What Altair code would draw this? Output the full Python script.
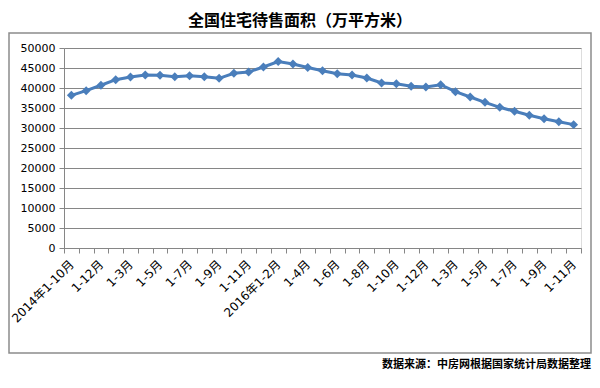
import altair as alt
import pandas as pd
import json

categories = [
    "2014年1-10月", "1-11月", "1-12月",
    "2015年1-2月", "1-3月", "1-4月", "1-5月", "1-6月", "1-7月", "1-8月", "1-9月", "1-10月", "1-11月", "1-12月",
    "2016年1-2月", "1-3月", "1-4月", "1-5月", "1-6月", "1-7月", "1-8月", "1-9月", "1-10月", "1-11月", "1-12月",
    "2017年1-2月", "1-3月", "1-4月", "1-5月", "1-6月", "1-7月", "1-8月", "1-9月", "1-10月", "1-11月",
]
values = [
    38170, 39330, 40680,
    42080, 42750, 43250, 43170, 42830, 43080, 42830, 42420, 43670, 44000, 45250,
    46630, 46000, 45120, 44330, 43580, 43250, 42500, 41250, 41080, 40420, 40260,
    40830, 39080, 37750, 36420, 35170, 34170, 33170, 32330, 31580, 30840,
]
y_ticks = list(range(0, 50001, 5000))
title_text = "全国住宅待售面积（万平方米）"
source_text = "数据来源：中房网根据国家统计局数据整理"

n = len(categories)
df = pd.DataFrame({"i": list(range(n)), "cat": categories, "v": values})

tick_vals = [k * 0.5 - 0.5 for k in range(2 * n + 1)]
label_expr = ("(datum.value % 2 === 0) ? " + json.dumps(categories, ensure_ascii=False)
              + "[datum.value] : ''")

BLUE = "#4A7EBB"
GRAY = "#868686"
FONT = "DejaVu Sans, Noto Sans CJK SC"

x = alt.X(
    "i:Q",
    scale=alt.Scale(domain=[-0.5, n - 0.5], nice=False, zero=False),
    axis=alt.Axis(
        title=None, values=tick_vals, labelExpr=label_expr, labelAngle=-45,
        labelAlign="right", labelBaseline="middle", labelPadding=9,
        labelOverlap=False, labelBound=False, labelFlush=False,
        labelFont=FONT, labelFontSize=12, labelColor="#000000",
        tickSize=5, tickColor=GRAY,
        tickOpacity={"condition": {"test": "datum.value % 1 !== 0", "value": 1}, "value": 0},
        domainColor=GRAY, grid=False,
    ),
)
y = alt.Y(
    "v:Q",
    scale=alt.Scale(domain=[0, 50000], nice=False),
    axis=alt.Axis(
        title=None, values=y_ticks, format="d", labelFont="DejaVu Sans", labelFontSize=11,
        labelColor="#000000", labelPadding=4, tickSize=5, tickColor=GRAY,
        domainColor=GRAY, gridColor=GRAY, gridWidth=1,
    ),
)

line = alt.Chart(df).mark_line(
    color=BLUE, strokeWidth=3,
    point=alt.OverlayMarkDef(shape="diamond", size=80, filled=True, color=BLUE, opacity=1),
).encode(x=x, y=y)

one = pd.DataFrame({"a": [0]})

border = alt.Chart(one).mark_rect(
    fill=None, stroke="#8c8c8c", strokeWidth=1.5
).encode(x=alt.value(-55), x2=alt.value(527), y=alt.value(-15), y2=alt.value(305))

title = alt.Chart(one).mark_text(
    text=title_text, align="center", baseline="middle",
    font="Noto Sans CJK SC", fontSize=16, fontWeight="bold", color="#000000",
).encode(x=alt.value(236), y=alt.value(-27.5))

source = alt.Chart(one).mark_text(
    text=source_text, align="right", baseline="middle",
    font="Noto Sans CJK SC", fontSize=11, fontWeight="bold", color="#000000",
).encode(x=alt.value(527), y=alt.value(317))

chart = alt.layer(border, line, title, source).properties(
    width=517, height=200,
    autosize=alt.AutoSizeParams(type="none"),
    padding={"left": 56, "top": 40, "right": 11, "bottom": 132},
).configure_view(stroke=None).configure(background="white")

chart.save("out.html", embed_options={"renderer": "svg", "actions": False})
